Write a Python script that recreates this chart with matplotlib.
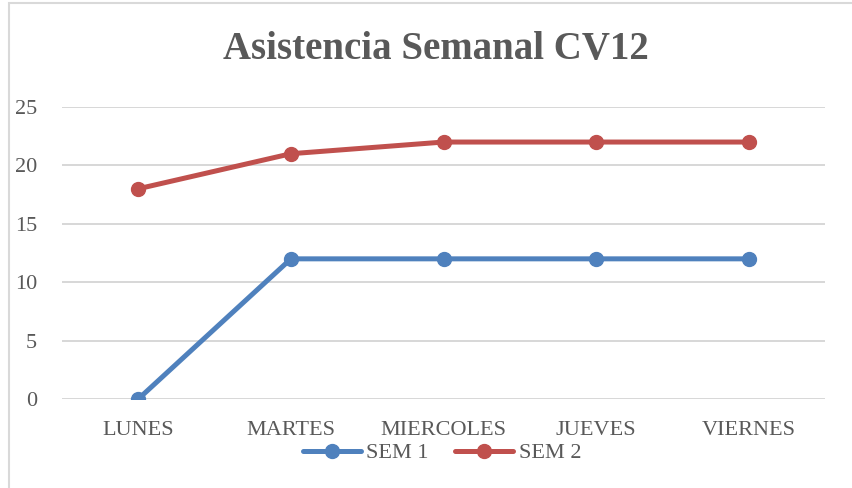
import matplotlib.pyplot as plt
from matplotlib.patches import Rectangle

dias = ['LUNES', 'MARTES', 'MIERCOLES', 'JUEVES', 'VIERNES']
sem1 = [0, 12, 12, 12, 12]
sem2 = [18, 21, 22, 22, 22]

plt.rcParams['font.family'] = ['Liberation Serif', 'DejaVu Serif']
gris = '#595959'

fig = plt.figure(figsize=(8.53, 4.88), dpi=100)
ax = fig.add_axes([62/853, 89/488, 763/853, 292/488])

x = list(range(len(dias)))
ax.plot(x, sem1, color='#4F81BD', lw=3.6, marker='o', ms=10, label='SEM 1',
        solid_capstyle='round', zorder=3)
ax.plot(x, sem2, color='#C0504D', lw=3.6, marker='o', ms=10, label='SEM 2',
        solid_capstyle='round', zorder=3)

ax.set_xlim(-0.5, len(dias) - 0.5)
ax.set_ylim(0, 25)
ax.set_yticks(range(0, 26, 5))
ax.set_xticks(x)
ax.set_xticklabels(dias)
ax.grid(axis='y', color='#d4d4d4', lw=1.3)
ax.set_axisbelow(True)
for s in ax.spines.values():
    s.set_visible(False)
ax.tick_params(length=0, labelsize=16, labelcolor=gris)
ax.tick_params(axis='y', pad=18)
ax.tick_params(axis='x', pad=16)

fig.text(436/853, 1 - 49/488, 'Asistencia Semanal CV12', ha='center', va='center',
         fontsize=28, fontweight='bold', color=gris)

leg = fig.legend(loc='center', bbox_to_anchor=(442/853, 1 - 453/488), ncol=2,
                 frameon=False, fontsize=16, handlelength=2.6, handletextpad=0.25,
                 columnspacing=1.2, labelcolor=gris, borderaxespad=0)

fig.patches.append(Rectangle((9/853, -0.1), 1.2, 1 - 3/488 + 0.1, transform=fig.transFigure,
                             fill=False, edgecolor='#d9d9d9', lw=1.5))

fig.savefig('out.png', dpi=100)
